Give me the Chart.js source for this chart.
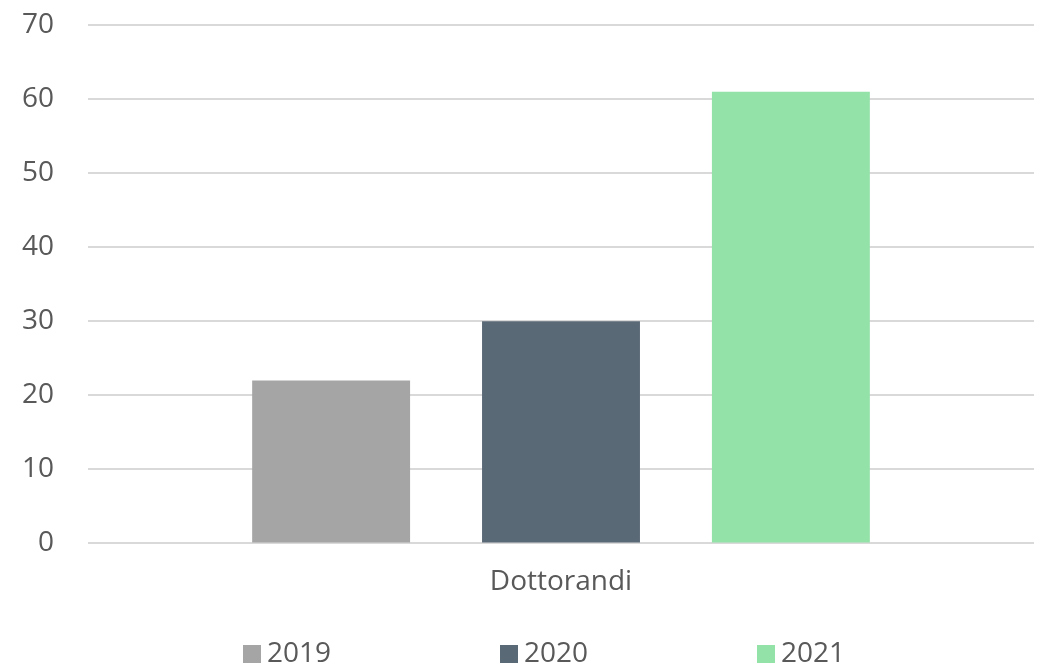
<!DOCTYPE html>
<html>
<head>
<meta charset="utf-8">
<script src="https://cdn.jsdelivr.net/npm/chart.js@4/dist/chart.umd.min.js"></script>
<style>
  html, body { margin: 0; padding: 0; background: #fff; }
  canvas { display: block; }
</style>
</head>
<body>
<canvas id="chart" width="1046" height="666"></canvas>
<script>
// categories and series
const categories = ['Dottorandi'];
const years = ['2019', '2020', '2021'];
const values2019 = [22];
const values2020 = [30];
const values2021 = [61];
const yTicks = [0, 10, 20, 30, 40, 50, 60, 70];

const colors = ['#a5a5a5', '#5a6976', '#93e2a8'];
const seriesValues = [values2019, values2020, values2021];

const textColor = '#595959';
const fontFamily = "'Open Sans', 'Noto Sans', sans-serif";
const fontSize = 28;

// legend row drawn under the axis, evenly spaced items
const bottomLegend = {
  id: 'bottomLegend',
  afterDraw(chart) {
    const c = chart.ctx;
    const box = 18;
    const step = 257;
    const centerX = 540;
    const y = 654;
    const n = chart.data.datasets.length;
    let x = centerX - (step * (n - 1)) / 2 - 40;
    c.save();
    c.font = fontSize + 'px ' + fontFamily;
    c.textBaseline = 'middle';
    c.textAlign = 'left';
    chart.data.datasets.forEach(ds => {
      c.fillStyle = ds.backgroundColor;
      c.fillRect(x, y - box / 2, box, box);
      c.fillStyle = textColor;
      c.fillText(ds.label, x + box + 6, y);
      x += step;
    });
    c.restore();
  }
};

const ctx = document.getElementById('chart').getContext('2d');

new Chart(ctx, {
  type: 'bar',
  data: {
    labels: categories,
    datasets: years.map((y, i) => ({
      label: y,
      data: seriesValues[i],
      backgroundColor: colors[i],
      borderWidth: 0,
      categoryPercentage: 0.729,
      barPercentage: 0.687
    }))
  },
  options: {
    responsive: false,
    animation: false,
    layout: {
      padding: { left: 0, right: 12, top: 25, bottom: 53 }
    },
    scales: {
      x: {
        grid: { display: false },
        border: { display: false },
        ticks: {
          color: textColor,
          font: { family: fontFamily, size: fontSize },
          padding: 14
        }
      },
      y: {
        min: 0,
        max: 70,
        afterBuildTicks: axis => { axis.ticks = yTicks.map(v => ({ value: v })); },
        afterFit: axis => {
          axis.width = 88;
          axis.paddingTop = 0;
          axis.paddingBottom = 0;
        },
        grid: {
          color: '#d9d9d9',
          lineWidth: 2,
          drawTicks: false
        },
        border: { display: false },
        ticks: {
          color: textColor,
          font: { family: fontFamily, size: fontSize },
          padding: 34
        }
      }
    },
    plugins: {
      legend: { display: false },
      tooltip: { enabled: false }
    }
  },
  plugins: [bottomLegend]
});
</script>
</body>
</html>
